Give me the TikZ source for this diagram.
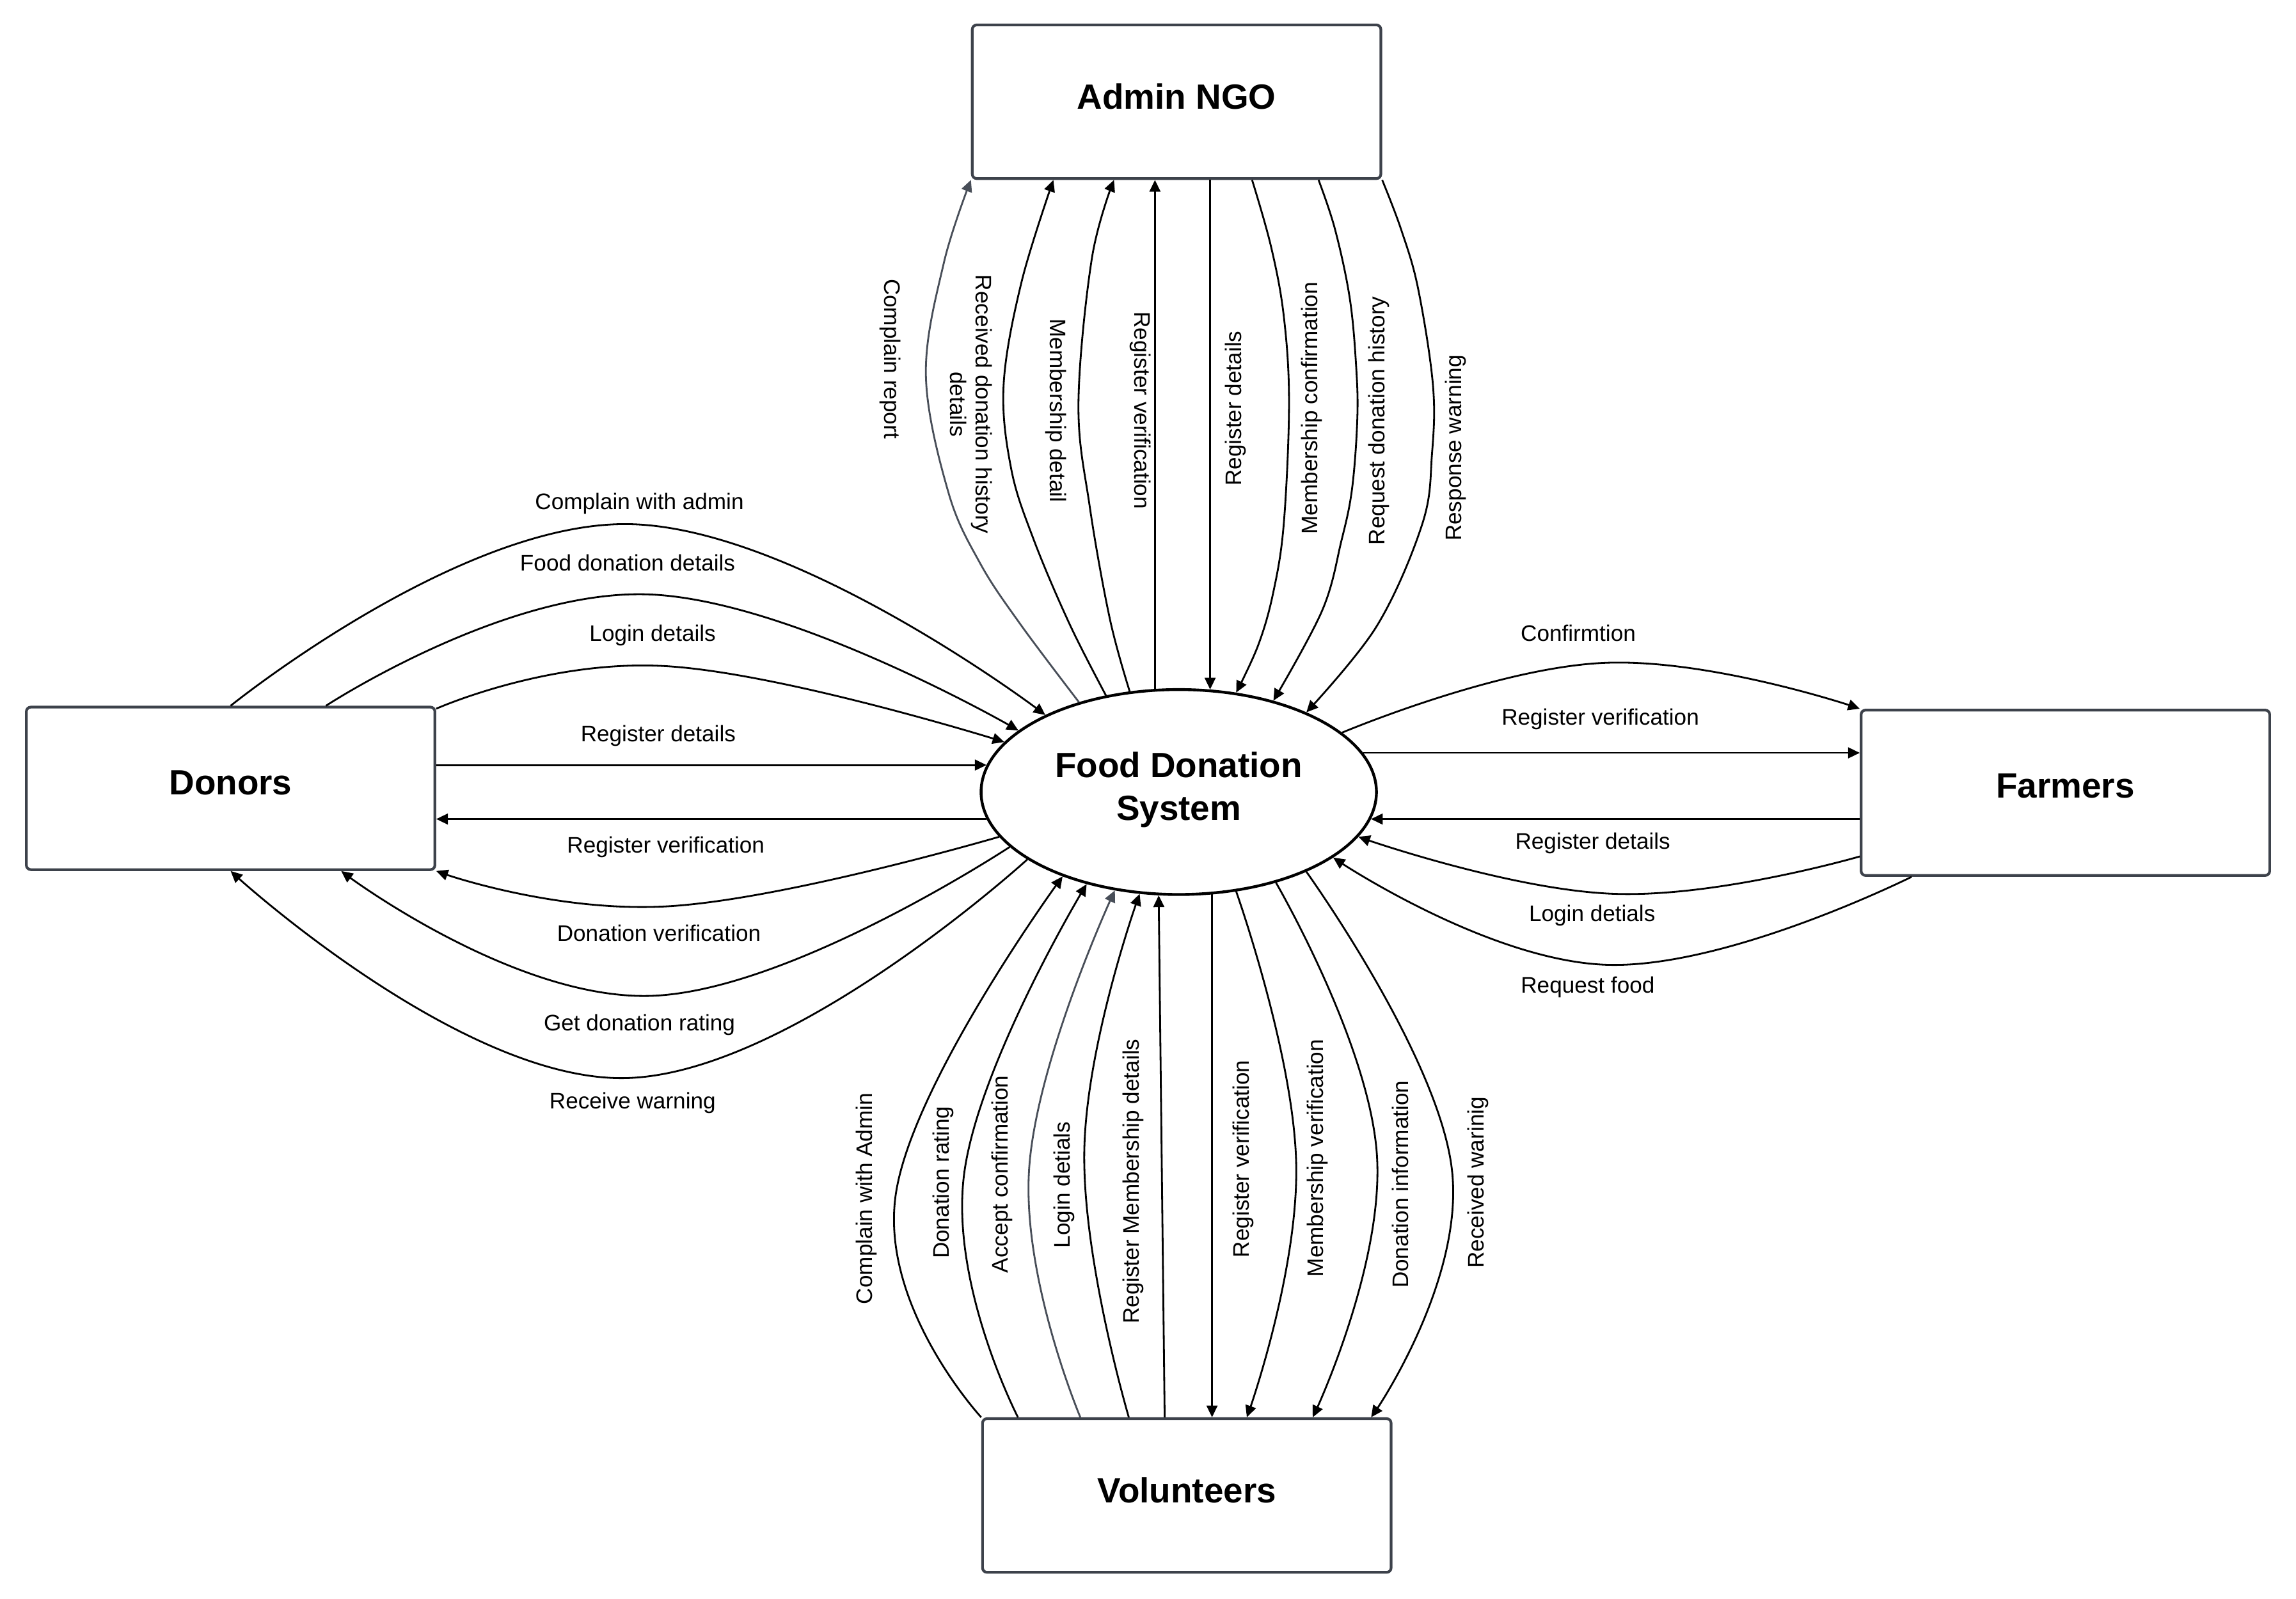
\documentclass[tikz,border=0pt]{standalone}
\usepackage{fontspec}
\setmainfont{Liberation Sans}
\usetikzlibrary{shapes.geometric,arrows.meta,calc}
\definecolor{boxgray}{RGB}{61,66,75}
\definecolor{linegray}{RGB}{72,78,88}
\tikzset{
  box/.style={draw=boxgray, line width=1.2pt, rounded corners=2pt, minimum width=6.386cm, inner sep=0pt, fill=white},
  title/.style={font=\fontsize{15.6pt}{19pt}\selectfont\bfseries, anchor=base, inner sep=0pt},
  lbl/.style={font=\fontsize{10pt}{11.4pt}\selectfont, inner sep=0pt, text height=7.2pt, text depth=2.1pt},
  lbltwo/.style={font=\fontsize{10pt}{11.4pt}\selectfont, inner sep=0pt, align=center},
  conn/.style={line width=0.8pt, -{Triangle[length=5.2pt,width=4.8pt]}},
  gconn/.style={conn, draw=linegray},
  sm/.style={smooth, tension=0.75},
  smt/.style={smooth, tension=0.6},
}
\begin{document}
\begin{tikzpicture}[x=0.022889cm, y=-0.022889cm]
\fill[white] (0,0) rectangle (1568,1092.2);
\useasboundingbox (0,0) rectangle (1568,1092.2);

% entities
\node[box, minimum height=2.403cm] (admin) at (803.5,69.5) {};
\node[box, minimum height=2.541cm] (donors) at (157.5,538.5) {};
\node[box, minimum height=2.586cm] (farmers) at (1410.5,541.5) {};
\node[box, minimum height=2.403cm] (vol) at (810.5,1021.5) {};
\node[draw, ellipse, line width=1.25pt, minimum width=6.18cm, minimum height=3.204cm, inner sep=0pt] (fds) at (805,541) {};

\node[title] (adminT) at (803.5,74.5) {Admin NGO};
\node[title] (donorsT) at (157.5,543) {Donors};
\node[title] (farmersT) at (1410.5,545) {Farmers};
\node[title] (volT) at (810.5,1026.6) {Volunteers};
\node[title] (fdsA) at (805,531.1) {Food Donation};
\node[title] (fdsB) at (805,560.2) {System};

% Admin NGO connectors
\draw[gconn] plot[smt] coordinates {(fds.138.9) (696.7,426.2) (669.2,384.5) (647.7,336.4) (632.3,256.3) (644.6,179.4) (admin.south west)};
\draw[conn] plot[smt] coordinates {(fds.127.3) (730.4,426.2) (705.9,368.5) (690.6,320.4) (685.4,262.7) (697.7,192.3) ($(admin.south west)+(56.3,0)$)};
\draw[conn] plot[smt] coordinates {(fds.116.0) (758,423) (744.2,346) (736.5,275.6) (745.7,176.2) ($(admin.south west)+(97.7,0)$)};
\draw[conn] (fds.103) -- (fds.103 |- admin.south);
\draw[conn] (fds.73.9 |- admin.south) -- (fds.73.9);
\draw[conn] plot[smt] coordinates {($(admin.south west)+(192,0)$) (868,168.4) (876.7,215.8) (880.3,275) (876.7,357.9) (869.4,405.3) (859.2,440.8) (fds.60.0)};
\draw[conn] plot[smt] coordinates {($(admin.south west)+(237.4,0)$) (911.7,156.6) (921.8,203.9) (926.2,251.3) (926.9,286.9) (923.3,334.2) (916,369.7) (902.9,417.1) (fds.44.9)};
\draw[conn] plot[smt] coordinates {(admin.south east) (956.8,156.6) (968.4,196.9) (978.6,263.2) (977.9,310.5) (971.3,357.9) (940,428) (fds.32.6)};

% Donors connectors
\draw[conn] plot[sm] coordinates {(donors.north) (428.6,358) (fds.150.9)};
\draw[conn] plot[sm] coordinates {($(donors.north)+(65.1,0)$) (442.8,406) (fds.159.0)};
\draw[conn] plot[sm] coordinates {($(donors.north east)+(0,2)$) (454.7,455) (fds.164.9)};
\draw[conn] (donors.east |- fds.172.3) -- (fds.172.3);
\draw[conn] (fds.188.4) -- (donors.east |- fds.188.4);
\draw[conn] plot[sm] coordinates {(fds.194.9) (457,619) (donors.south east)};
\draw[conn] plot[sm] coordinates {(fds.198.7) (445.2,680.2) ($(donors.south)+(75.5,0)$)};
\draw[conn] plot[sm] coordinates {(fds.204.1) (426.3,736.4) (donors.south)};

% Farmers connectors
\draw[conn] plot[sm] coordinates {(fds.20.6) (1095,452.8) (farmers.north west)};
\draw[conn] (fds.12.2) -- (farmers.west |- fds.12.2);
\draw[conn] (farmers.west |- fds.352.2) -- (fds.352.2);
\draw[conn] plot[sm] coordinates {($(farmers.west)+(0,43.5)$) (1101.4,610.5) (fds.346.3)};
\draw[conn] plot[sm] coordinates {($(farmers.south west)+(35.4,0)$) (1097.2,659) (fds.337.8)};

% Volunteers connectors
\draw[conn] plot[sm] coordinates {(vol.north west) (611.8,815.4) (fds.216.3)};
\draw[conn] plot[sm] coordinates {($(vol.north west)+(25.1,0)$) (658.4,802) (fds.225.8)};
\draw[gconn] plot[sm] coordinates {($(vol.north west)+(67.7,0)$) (702.8,798.6) (fds.237.0)};
\draw[conn] plot[sm] coordinates {($(vol.north west)+(100.8,0)$) (740.5,785.3) (fds.249.9)};
\draw[conn] ($(vol.north west)+(125.3,0)$) -- (fds.259.4);
\draw[conn] (fds.288.0) -- (fds.288.0 |- vol.north);
\draw[conn] plot[sm] coordinates {(fds.300.7) (885.2,795.3) ($(vol.north west)+(181.4,0)$)};
\draw[conn] plot[sm] coordinates {(fds.317.8) (940.3,788.6) ($(vol.north west)+(226.4,0)$)};
\draw[conn] plot[sm] coordinates {(fds.328.3) (991.5,798.6) ($(vol.north west)+(266.3,0)$)};

% labels: Donors side
\node[lbl] (l1) at (436.7,344.1) {Complain with admin};
\node[lbl] (l2) at (428.6,386.1) {Food donation details};
\node[lbl] (l3) at (445.7,433.9) {Login details};
\node[lbl] (l4) at (449.5,502.6) {Register details};
\node[lbl] (l5) at (454.7,578.6) {Register verification};
\node[lbl] (l6) at (450,639) {Donation verification};
\node[lbl] (l7) at (436.7,700.2) {Get donation rating};
\node[lbl] (l8) at (432,753.3) {Receive warning};

% labels: Farmers side
\node[lbl] (r1) at (1077.8,434) {Confirmtion};
\node[lbl] (r2) at (1092.9,491.4) {Register verification};
\node[lbl] (r3) at (1087.7,576) {Register details};
\node[lbl] (r4) at (1087.3,625.2) {Login detials};
\node[lbl] (r5) at (1084.3,674.3) {Request food};

% labels: Admin side
\node[lbl, rotate=-90] (t1) at (607.8,245.1) {Complain report};
\node[lbltwo, rotate=-90] (t2) at (663.4,276.2) {Received donation history\\details};
\node[lbl, rotate=-90] (t3) at (721.2,280.4) {Membership detail};
\node[lbl, rotate=-90] (t4) at (778.8,280.4) {Register verification};
\node[lbl, rotate=90] (t5) at (843.8,279) {Register details};
\node[lbl, rotate=90] (t6) at (895.9,278.8) {Membership confirmation};
\node[lbl, rotate=90] (t7) at (941.9,287.4) {Request donation history};
\node[lbl, rotate=90] (t8) at (994,306) {Response warning};

% labels: Volunteers side
\node[lbl, rotate=90] (b1) at (591.9,818.7) {Complain with Admin};
\node[lbl, rotate=90] (b2) at (644,807.7) {Donation rating};
\node[lbl, rotate=90] (b3) at (684.4,802) {Accept confirmation};
\node[lbl, rotate=90] (b4) at (726.7,809.3) {Login detials};
\node[lbl, rotate=90] (b5) at (773.9,807) {Register Membership details};
\node[lbl, rotate=90] (b6) at (849.3,791.6) {Register verification};
\node[lbl, rotate=90] (b7) at (899.9,791) {Membership verification};
\node[lbl, rotate=90] (b8) at (957.8,809) {Donation information};
\node[lbl, rotate=90] (b9) at (1009.3,807.7) {Received warinig};
\end{tikzpicture}
\end{document}
